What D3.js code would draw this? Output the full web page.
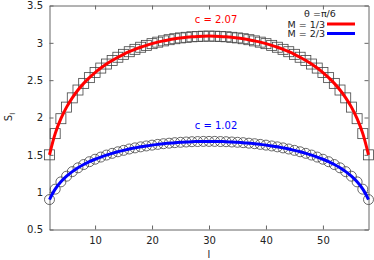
<!DOCTYPE html>
<html>
<head>
<meta charset="utf-8">
<script src="https://cdn.jsdelivr.net/npm/d3@7"></script>
<style>
  body { margin: 0; background: #fff; }
  svg { font-family: "DejaVu Sans", sans-serif; }
  .axis path, .axis line { stroke: #666; }
  .axis text { font-size: 10px; fill: #222; font-family: "DejaVu Sans", sans-serif; }
</style>
</head>
<body>
<svg id="chart" width="374" height="260"></svg>
<script>
// subsystem sizes l = 2 .. 58
var lValues = d3.range(2, 59);

// M = 1/3 (squares + red fit)
var sM13 = [1.500,1.784,1.984,2.139,2.263,2.368,2.457,2.534,2.602,2.662,2.716,2.764,2.807,2.846,2.881,2.913,2.941,2.966,2.989,3.009,3.026,3.042,3.055,3.066,3.074,3.081,3.086,3.089,3.090,
            3.089,3.086,3.081,3.074,3.066,3.055,3.042,3.026,3.009,2.989,2.966,2.941,2.913,2.881,2.846,2.807,2.764,2.716,2.662,2.602,2.534,2.457,2.368,2.263,2.139,1.984,1.784,1.500];

// M = 2/3 (circles + blue fit)
var sM23 = [0.901,1.040,1.138,1.214,1.275,1.326,1.370,1.408,1.441,1.470,1.497,1.520,1.541,1.560,1.578,1.593,1.607,1.619,1.630,1.640,1.649,1.656,1.663,1.668,1.672,1.676,1.678,1.680,1.680,
            1.680,1.678,1.676,1.672,1.668,1.663,1.656,1.649,1.640,1.630,1.619,1.607,1.593,1.578,1.560,1.541,1.520,1.497,1.470,1.441,1.408,1.370,1.326,1.275,1.214,1.138,1.040,0.901];

var xTicks = [10, 20, 30, 40, 50];
var yTicks = [0.5, 1, 1.5, 2, 2.5, 3, 3.5];
var legendLabels = ["M = 1/3", "M = 2/3"];
var fitLabels = ["c = 2.07", "c = 1.02"];

var svg = d3.select("#chart");

// plot frame (note: "top" is taken by window.top)
var pLeft = 49.5, pRight = 368.5, pTop = 5.5, pBottom = 229.5;

var x = d3.scaleLinear().domain([2, 58]).range([pLeft, pRight]);
var y = d3.scaleLinear().domain([0.5, 3.5]).range([pBottom, pTop]);

var fmt = function(d) { return String(+d.toFixed(1)); };

// axes (ticks point inwards, mirrored on top / right)
svg.append("g").attr("class", "axis")
    .attr("transform", "translate(0," + pBottom + ")")
    .call(d3.axisBottom(x).tickValues(xTicks).tickSize(-4).tickSizeOuter(0).tickPadding(7.5).tickFormat(fmt));
svg.append("g").attr("class", "axis")
    .attr("transform", "translate(0," + pTop + ")")
    .call(d3.axisTop(x).tickValues(xTicks).tickSize(-4).tickSizeOuter(0).tickFormat(""));
svg.append("g").attr("class", "axis")
    .attr("transform", "translate(" + pLeft + ",0)")
    .call(d3.axisLeft(y).tickValues(yTicks).tickSize(-4).tickSizeOuter(0).tickPadding(6.5).tickFormat(fmt));
svg.append("g").attr("class", "axis")
    .attr("transform", "translate(" + pRight + ",0)")
    .call(d3.axisRight(y).tickValues(yTicks).tickSize(-4).tickSizeOuter(0).tickFormat(""));

// axis titles
svg.append("text")
    .attr("x", (pLeft + pRight) / 2).attr("y", 258)
    .attr("text-anchor", "middle").attr("font-size", 10).attr("fill", "#222")
    .text("l");

var yt = svg.append("text")
    .attr("transform", "translate(12,117) rotate(-90)")
    .attr("text-anchor", "middle").attr("font-size", 10).attr("fill", "#222");
yt.append("tspan").text("S");
yt.append("tspan").attr("font-size", 7).attr("dy", 3).text("l");

var series = [
    { values: sM13, color: "#ff0000", marker: "square" },
    { values: sM23, color: "#0000ff", marker: "circle" }
];

var line = d3.line()
    .x(function(d, i) { return x(lValues[i]); })
    .y(function(d) { return y(d); })
    .curve(d3.curveCatmullRom);

series.forEach(function(s) {
    var g = svg.append("g");
    if (s.marker == "square") {
        g.selectAll("rect").data(s.values).enter().append("rect")
            .attr("x", function(d, i) { return x(lValues[i]) - 5; })
            .attr("y", function(d) { return y(d) - 5; })
            .attr("width", 10).attr("height", 10)
            .attr("fill", "none").attr("stroke", "#444").attr("stroke-width", 0.8);
    } else {
        g.selectAll("circle").data(s.values).enter().append("circle")
            .attr("cx", function(d, i) { return x(lValues[i]); })
            .attr("cy", function(d) { return y(d); })
            .attr("r", 5)
            .attr("fill", "none").attr("stroke", "#444").attr("stroke-width", 0.8);
    }
    svg.append("path").datum(s.values)
        .attr("d", line)
        .attr("fill", "none").attr("stroke", s.color).attr("stroke-width", 3);
});

// fit labels
svg.append("text").attr("x", 216).attr("y", 23)
    .attr("text-anchor", "middle").attr("font-size", 10).attr("fill", "#ff0000")
    .text(fitLabels[0]);
svg.append("text").attr("x", 216).attr("y", 129)
    .attr("text-anchor", "middle").attr("font-size", 10).attr("fill", "#0000ff")
    .text(fitLabels[1]);

// legend
svg.append("text").attr("x", 320).attr("y", 16.5)
    .attr("text-anchor", "middle").attr("font-size", 9.5).attr("fill", "#222")
    .text("θ =π/6");
legendLabels.forEach(function(t, i) {
    var ly = 24 + i * 9.5;
    svg.append("text").attr("x", 325).attr("y", ly + 3.5)
        .attr("text-anchor", "end").attr("font-size", 9.5).attr("fill", "#222")
        .text(t);
    svg.append("line")
        .attr("x1", 327).attr("x2", 355).attr("y1", ly).attr("y2", ly)
        .attr("stroke", series[i].color).attr("stroke-width", 3);
});
</script>
</body>
</html>
